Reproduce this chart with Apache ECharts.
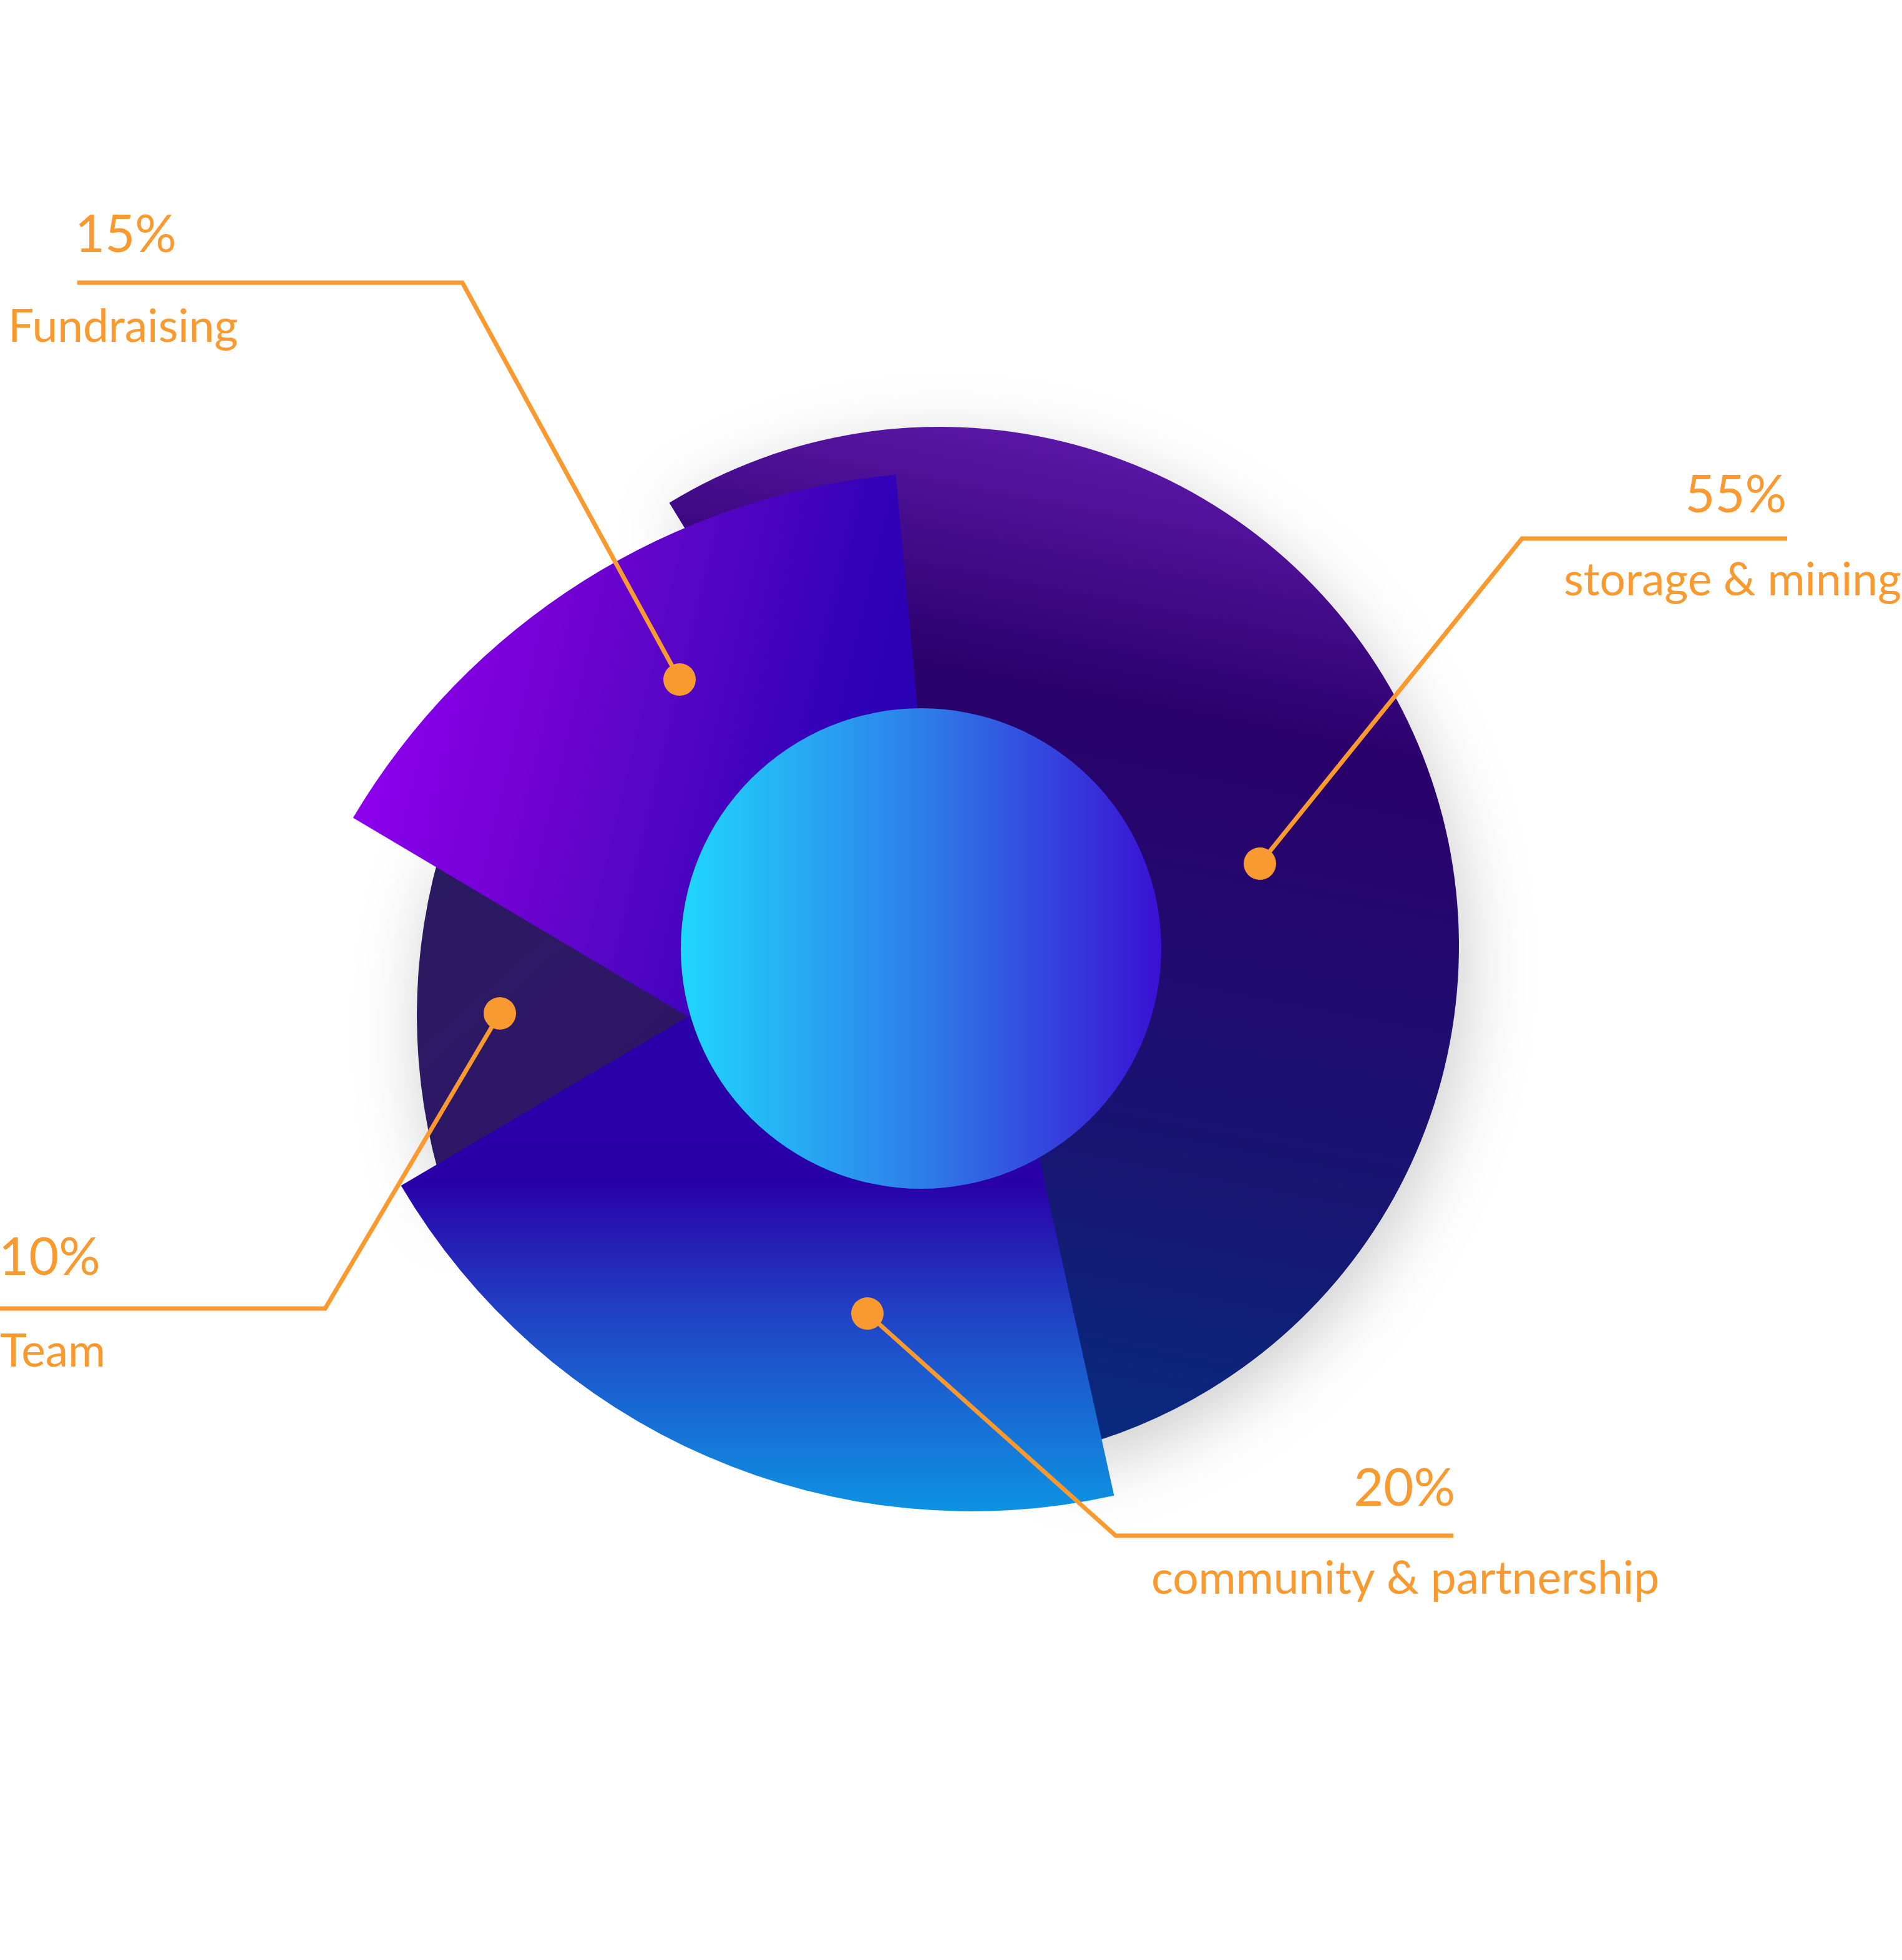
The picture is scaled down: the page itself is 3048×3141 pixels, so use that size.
<!DOCTYPE html>
<html>
<head>
<meta charset="utf-8">
<title>Token distribution</title>
<script src="https://cdn.jsdelivr.net/npm/echarts@6/dist/echarts.min.js"></script>
<style>
  html, body { margin: 0; padding: 0; background: #ffffff; }
  #chart { width: 3048px; height: 3141px; }
</style>
</head>
<body>
<div id="chart"></div>
<script>
// ---- data ----
const categories = ['storage & mining', 'community & partnership', 'Team', 'Fundraising'];
const values = [55, 20, 10, 15];
const percentLabels = values.map(v => v + '%');

// ---- layout / style (not data) ----
const ORANGE = '#f99a30';
const FONT = 'Lato';

const grad = (x, y, x2, y2, stops) => ({
  type: 'linear', x: x, y: y, x2: x2, y2: y2, global: true,
  colorStops: stops.map(s => ({ offset: s[0], color: s[1] }))
});

const sliceStyle = [
  { center: [1506, 1516], radius: 832, start: 121.4, z: 1, shadow: true,
    fill: grad(1700, 680, 1380, 2340, [[0, '#5d18aa'], [0.25, '#2a006b'], [0.67, '#181571'], [1, '#042f80']]) },
  { center: [1556, 1362], radius: 1060, start: 282.5, z: 4, shadow: false,
    fill: grad(1500, 1800, 1500, 2420, [[0, '#2a00a8'], [0.15, '#2900a8'], [0.5, '#2043c5'], [0.8, '#1673d6'], [1, '#0d92e2']]) },
  { center: [1603, 1627], radius: 935, start: 198, z: 2, shadow: true,
    fill: grad(700, 1400, 1100, 1850, [[0, '#2a1a60'], [0.6, '#2e1766'], [1, '#2b1560']]) },
  { center: [1540, 1889], radius: 1133, start: 149.3, z: 3, shadow: false,
    fill: grad(560, 1200, 1484, 1419, [[0, '#8f00ef'], [0.28, '#7600d6'], [0.475, '#5a06c6'], [0.8, '#3000b7'], [1, '#2500b0']]) }
];

const disk = { center: [1476, 1520], radius: 385,
  fill: grad(1091, 1520, 1861, 1520, [[0, '#1fd7fd'], [0.5, '#2d7ee8'], [1, '#3a10d4']]) };

// callout geometry (layout only)
const callouts = [
  { pct: [2863, 794], name: [2506, 930], align: 'right',
    line: [[2864, 863], [2439, 863], [2019, 1384]], dot: [2019, 1384] },
  { pct: [2332, 2386], name: [1845, 2530], align: 'right',
    line: [[2329, 2461], [1788, 2461], [1390, 2105]], dot: [1390, 2105] },
  { pct: [-2, 2016], name: [0, 2166], align: 'left',
    line: [[0, 2097], [521, 2097], [801, 1624]], dot: [801, 1624] },
  { pct: [120, 377], name: [13, 524], align: 'left',
    line: [[124, 453], [741, 453], [1089, 1089]], dot: [1089, 1089] }
];

const total = values.reduce((a, b) => a + b, 0);
const hidden = { color: 'rgba(0,0,0,0)', borderWidth: 0, shadowBlur: 0, shadowColor: 'rgba(0,0,0,0)' };

const series = sliceStyle.map((s, i) => {
  const prefix = values.slice(0, i).reduce((a, b) => a + b, 0);
  const startAngle = (((s.start + prefix / total * 360) % 360) + 360) % 360;
  return {
    type: 'pie',
    name: categories[i],
    z: s.z,
    center: s.center,
    radius: [0, s.radius],
    startAngle: startAngle,
    clockwise: true,
    minAngle: 0,
    avoidLabelOverlap: false,
    silent: true,
    animation: false,
    label: { show: false },
    labelLine: { show: false },
    emphasis: { disabled: true },
    data: categories.map((c, j) => ({
      name: c,
      value: values[j],
      itemStyle: j === i ? Object.assign({ color: s.fill, borderWidth: 0 },
        s.shadow ? { shadowBlur: 110, shadowColor: 'rgba(0,0,0,0.2)', shadowOffsetX: 10, shadowOffsetY: 30 } : {})
        : hidden
    }))
  };
});

series.push({
  type: 'pie',
  name: 'total',
  z: 6,
  center: disk.center,
  radius: [0, disk.radius],
  silent: true,
  animation: false,
  label: { show: false },
  labelLine: { show: false },
  emphasis: { disabled: true },
  data: [{ name: 'total', value: total, itemStyle: { color: disk.fill, borderWidth: 0 } }]
});

const graphics = [];
callouts.forEach((c, i) => {
  graphics.push({
    type: 'polyline', z: 100, silent: true,
    shape: { points: c.line },
    style: { stroke: ORANGE, lineWidth: 7, fill: null, lineJoin: 'miter' }
  });
  graphics.push({
    type: 'circle', z: 101, silent: true,
    shape: { cx: c.dot[0], cy: c.dot[1], r: 26 },
    style: { fill: ORANGE }
  });
  graphics.push({
    type: 'text', z: 102, silent: true,
    x: c.pct[0], y: c.pct[1],
    style: { text: percentLabels[i], fill: ORANGE, fontFamily: FONT, fontSize: 83, fontWeight: 400,
      align: c.align, verticalAlign: 'middle' }
  });
  graphics.push({
    type: 'text', z: 102, silent: true,
    x: c.name[0], y: c.name[1],
    style: { text: categories[i], fill: ORANGE, fontFamily: FONT, fontSize: 73, fontWeight: 400,
      align: 'left', verticalAlign: 'middle' }
  });
});

const chart = echarts.init(document.getElementById('chart'), null, { renderer: 'canvas', width: 3048, height: 3141 });
chart.setOption({
  backgroundColor: '#ffffff',
  animation: false,
  series: series,
  graphic: { elements: graphics }
});
</script>
</body>
</html>
